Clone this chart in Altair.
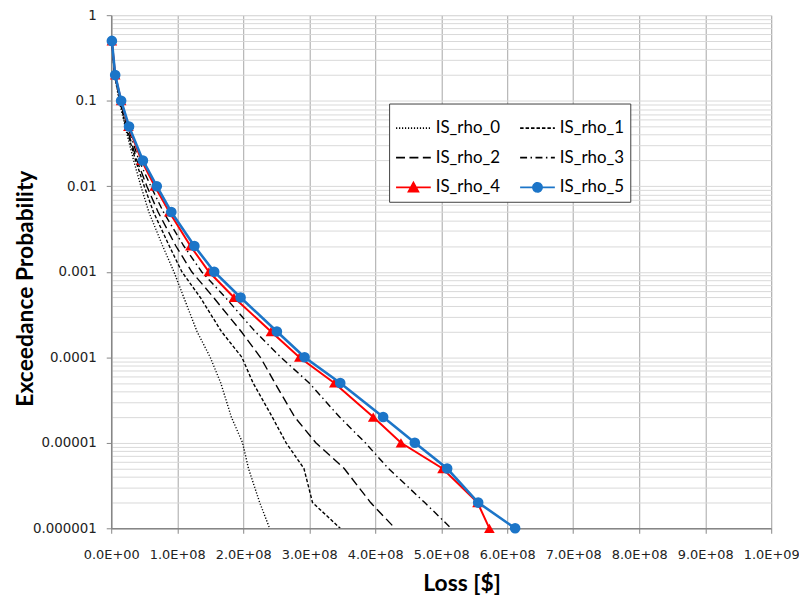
import json
import altair as alt
import pandas as pd

# ---------------- data (loss in units of 1e8 $) ----------------
probs = [0.5, 0.2, 0.1, 0.05, 0.02, 0.01, 0.005, 0.002, 0.001,
         5e-4, 2e-4, 1e-4, 5e-5, 2e-5, 1e-5, 5e-6, 2e-6, 1e-6]

series_names = ["IS_rho_0", "IS_rho_1", "IS_rho_2", "IS_rho_3", "IS_rho_4", "IS_rho_5"]

loss_rho_0 = [0.01, 0.05, 0.12, 0.21, 0.34, 0.45, 0.57, 0.78, 0.95,
              1.10, 1.30, 1.50, 1.66, 1.82, 1.99, 2.08, 2.25, 2.40]
loss_rho_1 = [0.01, 0.05, 0.13, 0.22, 0.37, 0.50, 0.64, 0.88, 1.07,
              1.35, 1.67, 1.98, 2.15, 2.44, 2.65, 2.92, 3.05, 3.47]
loss_rho_2 = [0.01, 0.05, 0.14, 0.23, 0.39, 0.54, 0.71, 0.98, 1.22,
              1.55, 1.97, 2.26, 2.48, 2.78, 3.10, 3.53, 3.93, 4.30]
loss_rho_3 = [0.01, 0.06, 0.14, 0.25, 0.42, 0.60, 0.79, 1.10, 1.37,
              1.73, 2.18, 2.57, 3.00, 3.46, 3.85, 4.20, 4.75, 5.15]
loss_rho_4 = [0.01, 0.06, 0.15, 0.26, 0.46, 0.66, 0.88, 1.20, 1.48,
              1.86, 2.42, 2.85, 3.38, 3.97, 4.39, 5.02, 5.55, 5.73]
loss_rho_5 = [0.01, 0.06, 0.15, 0.27, 0.48, 0.69, 0.91, 1.26, 1.56,
              1.96, 2.51, 2.93, 3.47, 4.12, 4.60, 5.09, 5.56, 6.12]
loss_unit = 1e8

x_tick_values = [0, 1e8, 2e8, 3e8, 4e8, 5e8, 6e8, 7e8, 8e8, 9e8, 1e9]
x_tick_labels = ["0.0E+00", "1.0E+08", "2.0E+08", "3.0E+08", "4.0E+08", "5.0E+08",
                 "6.0E+08", "7.0E+08", "8.0E+08", "9.0E+08", "1.0E+09"]
y_decades = [1e-6, 1e-5, 1e-4, 1e-3, 1e-2, 1e-1, 1]
y_tick_labels = ["0.000001", "0.00001", "0.0001", "0.001", "0.01", "0.1", "1"]

# ---------------- styles ----------------
colors = ["#000000", "#000000", "#000000", "#000000", "#ff0000", "#1c75c8"]
dashes = [[1.2, 1.8], [3.5, 2], [9, 4.5], [7, 3.5, 1.5, 3.5], [1, 0], [1, 0]]
widths = [1.4, 1.4, 1.4, 1.4, 2, 2.6]
# legend symbols: a line segment with the marker centred on it
legend_paths = [
    "M-1,0L1,0", "M-1,0L1,0", "M-1,0L1,0", "M-1,0L1,0",
    "M-1,0L1,0M-0.28,0.24L0,-0.28L0.28,0.24Z",
    "M-1,0L1,0M-0.26,0A0.26,0.26,0,1,1,0.26,0A0.26,0.26,0,1,1,-0.26,0Z",
]

all_losses = [loss_rho_0, loss_rho_1, loss_rho_2, loss_rho_3, loss_rho_4, loss_rho_5]
rows = []
for name, vals in zip(series_names, all_losses):
    for p, v in zip(probs, vals):
        rows.append({"series": name, "prob": p, "loss": v * loss_unit})
df = pd.DataFrame(rows)

y_grid_values = [m * d for d in y_decades[:-1] for m in range(1, 10)] + [1]

FONT = "Lato"
TICK_FONT = "DejaVu Sans"
decade_test = "abs(log(datum.value)/LN10 - round(log(datum.value)/LN10)) < 0.001"

x_enc = alt.X(
    "loss:Q",
    scale=alt.Scale(domain=[0, 1e9], nice=False, zero=False),
    axis=alt.Axis(
        title="Loss [$]", values=x_tick_values,
        labelExpr=f"{json.dumps(x_tick_labels)}[round(datum.value/1e8)]",
        labelFlush=False, labelOverlap=False, labelFont=TICK_FONT, labelFontSize=13,
        labelColor="#222222", labelPadding=15, tickSize=5, tickColor="#868686",
        domainColor="#868686", domainWidth=1.5,
        grid=True, gridColor="#a6a6a6", gridWidth=1,
        titleFont=FONT, titleFontSize=23, titleFontWeight="bold", titleColor="#000000",
        titleX=353, titleY=56, titleBaseline="middle", titleAlign="center",
    ),
)
y_enc = alt.Y(
    "prob:Q",
    scale=alt.Scale(type="log", domain=[1e-6, 1], nice=False),
    axis=alt.Axis(
        title="Exceedance Probability", values=y_grid_values,
        labelExpr=f"{decade_test} ? {json.dumps(y_tick_labels)}[round(log(datum.value)/LN10)+6] : ''",
        labelOverlap=False, labelBound=False, labelFont=TICK_FONT, labelFontSize=13.5,
        labelColor="#222222", labelPadding=10, tickSize=5, tickColor="#868686",
        tickOpacity={"condition": {"test": decade_test, "value": 1}, "value": 0},
        domainColor="#868686", domainWidth=1.5,
        grid=True, gridColor="#d9d9d9", gridWidth=1,
        titleFont=FONT, titleFontSize=23, titleFontWeight="bold", titleColor="#000000",
        titleX=-86, titleY=275, titleBaseline="middle", titleAlign="center", titleAngle=270,
    ),
)

names_js = json.dumps(series_names)
idx = f"indexof({names_js}, datum.value)"

legend = alt.Legend(
    title=None, orient="none", legendX=280, legendY=89, columns=2,
    direction="horizontal",
    strokeColor="#404040", fillColor="#ffffff", padding=6,
    symbolSize=1225, labelFont=FONT, labelFontSize=17, labelColor="#000000",
    labelOffset=4, columnPadding=16, rowPadding=3,
    symbolType={"expr": f"{json.dumps(legend_paths)}[{idx}]"},
    symbolFillColor={"expr": f"{json.dumps(colors)}[{idx}]"},
    symbolDash={"expr": f"{json.dumps(dashes)}[{idx}]"},
    symbolStrokeWidth=1.8,
    symbolOpacity=1,
)

base = alt.Chart(df)

black_lines = base.transform_filter(
    alt.FieldOneOfPredicate(field="series", oneOf=series_names[:4])
).mark_line(strokeWidth=widths[0], clip=True).encode(
    x=x_enc, y=y_enc,
    color=alt.Color("series:N", scale=alt.Scale(domain=series_names, range=colors), legend=legend),
    strokeDash=alt.StrokeDash("series:N", scale=alt.Scale(domain=series_names, range=dashes), legend=None),
    order=alt.Order("prob:Q", sort="descending"),
)

red = base.transform_filter(alt.datum.series == series_names[4])
blue = base.transform_filter(alt.datum.series == series_names[5])

red_line = red.mark_line(color=colors[4], strokeWidth=widths[4]).encode(
    x="loss:Q", y="prob:Q", order=alt.Order("prob:Q", sort="descending"))
red_pts = red.mark_point(shape="triangle-up", filled=True, color=colors[4], size=115, opacity=1).encode(
    x="loss:Q", y="prob:Q")
blue_line = blue.mark_line(color=colors[5], strokeWidth=widths[5]).encode(
    x="loss:Q", y="prob:Q", order=alt.Order("prob:Q", sort="descending"))
blue_pts = blue.mark_point(shape="circle", filled=True, color=colors[5], size=115, opacity=1).encode(
    x="loss:Q", y="prob:Q")

chart = alt.layer(black_lines, red_line, red_pts, blue_line, blue_pts).properties(
    width=665, height=517,
    autosize=alt.AutoSizeParams(type="none"),
    padding={"left": 104, "top": 5, "right": 28, "bottom": 70},
).configure_view(stroke="#868686", strokeWidth=1).configure(background="#ffffff")

chart.save("out.html", embed_options={"renderer": "svg", "actions": False})
